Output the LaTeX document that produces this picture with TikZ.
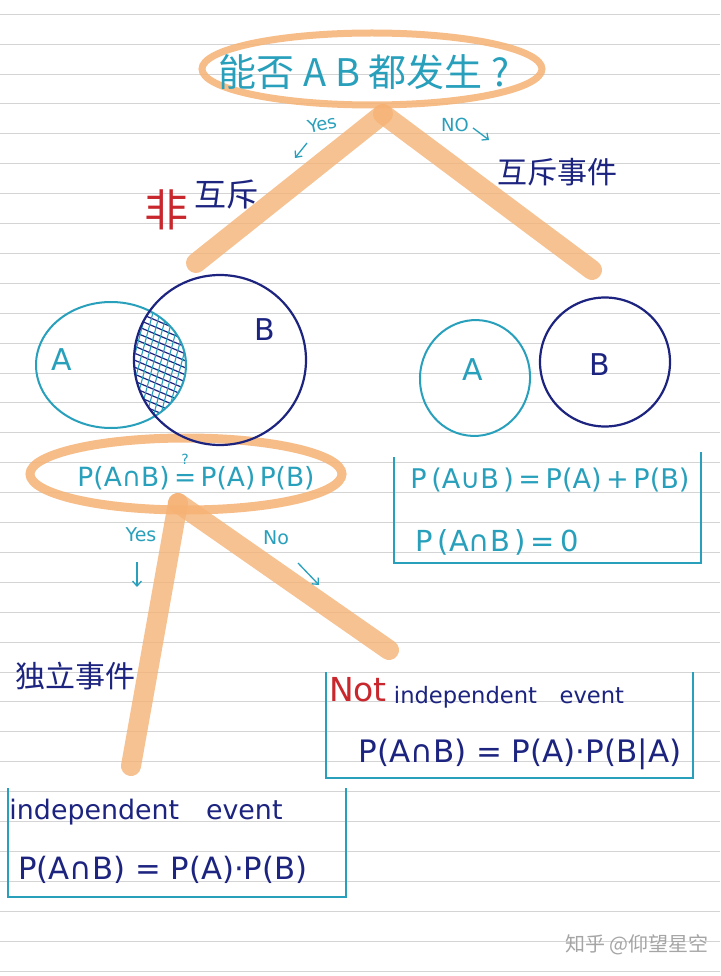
\documentclass[tikz,border=0pt]{standalone}
\usepackage{fontspec}
\usepackage{graphicx}
\setmainfont{DejaVu Sans}
\newfontfamily\cjk{Noto Sans CJK SC}
\usetikzlibrary{arrows.meta,shapes.geometric}
\definecolor{tealhand}{RGB}{40,160,188}
\definecolor{navyhand}{RGB}{28,36,128}
\definecolor{redhand}{RGB}{200,40,45}
\definecolor{orng}{RGB}{246,178,116}
\definecolor{rulegrey}{RGB}{212,212,212}
\definecolor{wmgrey}{RGB}{165,165,165}
\newcommand\fitw[2]{\resizebox{#1pt}{!}{#2}}
\begin{document}
\begin{tikzpicture}[x=1pt,y=-1pt,
  ruleline/.style={draw=rulegrey,line width=1pt},
  orstroke/.style={draw=orng,line width=20pt,line cap=round,draw opacity=0.78},
  orring/.style={ellipse,draw=orng,draw opacity=0.85,inner sep=0pt},
  tealtxt/.style={text=tealhand,inner sep=0pt},
  navytxt/.style={text=navyhand,inner sep=0pt},
  redtxt/.style={text=redhand,inner sep=0pt},
  handarrow/.style={-{Straight Barb[length=5pt,width=9pt]},draw=tealhand,line width=1.3pt},
  boxline/.style={draw=tealhand,line width=1.8pt},
  setA/.style={ellipse,draw=tealhand,line width=2pt,inner sep=0pt},
  setB/.style={ellipse,draw=navyhand,line width=2.2pt,inner sep=0pt},
]
\useasboundingbox (0,0) rectangle (720,976);
\fill[white] (0,0) rectangle (720,976);
\foreach \k in {0,...,32} {
  \pgfmathsetmacro{\ry}{int(14.3+29.9*\k)+0.5}
  \draw[ruleline] (0,\ry) -- (720,\ry);
}

% ---- orange question ellipses and branches
\node[orring,line width=7pt,minimum width=340pt,minimum height=72pt] (q1) at (372,69) {};
\coordinate (q1root) at (383,114);
\coordinate (yes1end) at (196,263);
\coordinate (no1end) at (592,270);
\draw[orstroke] (q1root) -- (yes1end);
\draw[orstroke] (q1root) -- (no1end);

\node[orring,line width=9pt,minimum width=312pt,minimum height=72pt] (q2) at (186,474) {};
\coordinate (q2root) at (178,503);
\coordinate (yes2end) at (131,766);
\coordinate (no2end) at (389,650);
\draw[orstroke] (q2root) -- (yes2end);
\draw[orstroke] (q2root) -- (no2end);

% ---- question texts
\node[tealtxt] (q1t) at (364,72) {\fontsize{38}{40}\selectfont\cjk 能否 A B 都发生 ?};
\node[tealtxt] (q2t) at (196,478) {\fitw{237}{P(A∩B)\,=\,P(A)\,P(B)}};
\node[tealtxt] (q2q) at (185,459) {\fontsize{14}{15}\selectfont ?};

% ---- branch labels, first level
\node[tealtxt,rotate=12] (yes1) at (322,124) {\fontsize{18}{19}\selectfont Yes};
\coordinate (ya1s) at (307,143);
\coordinate (ya1e) at (295,158);
\draw[handarrow] (ya1s) -- (ya1e);
\node[tealtxt] (no1) at (455,125) {\fontsize{18}{19}\selectfont NO};
\coordinate (na1s) at (473,128);
\coordinate (na1e) at (489,140);
\draw[handarrow] (na1s) -- (na1e);

\node[redtxt] (fei) at (166,210) {\fontsize{44}{46}\selectfont\cjk 非};
\node[navytxt] (huchi1) at (226,195) {\fontsize{32}{34}\selectfont\cjk 互斥};
\node[navytxt] (huchi2) at (557,172) {\fontsize{30}{32}\selectfont\cjk 互斥事件};

% ---- Venn diagram, overlapping
\begin{scope}
  \clip (111,365) ellipse [x radius=75pt, y radius=63pt];
  \clip (220,360) ellipse [x radius=86pt, y radius=85pt];
  \foreach \i in {270,277,...,460} \draw[navyhand,line width=1.2pt] (120,\i) -- (200,\i+34);
  \foreach \i in {110,117,...,240} \draw[tealhand,line width=1.1pt] (\i,290) -- (\i-40,440);
\end{scope}
\node[setA,minimum width=150pt,minimum height=126pt] (vA) at (111,365) {};
\node[setB,minimum width=172pt,minimum height=170pt] (vB) at (220,360) {};
\node[tealtxt] (vAl) at (62,360) {\fontsize{30}{32}\selectfont A};
\node[navytxt] (vBl) at (265,330) {\fontsize{30}{32}\selectfont B};

% ---- Venn diagram, disjoint
\node[setA,minimum width=110pt,minimum height=116pt,rotate=-8] (dA) at (475,378) {};
\node[setB,minimum width=130pt,minimum height=129pt] (dB) at (605,362) {};
\node[tealtxt] (dAl) at (473,370) {\fontsize{30}{32}\selectfont A};
\node[navytxt] (dBl) at (600,365) {\fontsize{30}{32}\selectfont B};

% ---- mutually exclusive box
\coordinate (bx1tl) at (394,457);
\coordinate (bx1bl) at (394,563);
\coordinate (bx1br) at (701,563);
\coordinate (bx1tr) at (701,452);
\draw[boxline] (bx1tl) -- (bx1bl) -- (bx1br) -- (bx1tr);
\node[tealtxt] (f2) at (550,480) {\fitw{279}{P\,(A∪B\,)\,=\,P(A)\,+\,P(B)}};
\node[tealtxt] (f3) at (497,542) {\fitw{163}{P\,(A∩B\,)\,=\,0}};

% ---- branch labels, second level
\node[tealtxt] (yes2) at (141,535) {\fontsize{19}{20}\selectfont Yes};
\coordinate (ya2s) at (137,562);
\coordinate (ya2e) at (137,587);
\draw[handarrow] (ya2s) -- (ya2e);
\node[tealtxt] (no2) at (276,538) {\fontsize{19}{20}\selectfont No};
\coordinate (na2s) at (298,563);
\coordinate (na2e) at (319,585);
\draw[handarrow] (na2s) -- (na2e);

\node[navytxt] (duli) at (75,676) {\fontsize{30}{32}\selectfont\cjk 独立事件};

% ---- not independent box
\coordinate (bx2tl) at (326,672);
\coordinate (bx2bl) at (326,778);
\coordinate (bx2br) at (693,778);
\coordinate (bx2tr) at (693,672);
\draw[boxline] (bx2tl) -- (bx2bl) -- (bx2br) -- (bx2tr);
\node[redtxt] (notw) at (358,690) {\fontsize{33}{35}\selectfont Not};
\node[navytxt] (nie) at (509,697) {\fitw{230}{independent\quad event}};
\node[navytxt] (f4) at (520,754) {\fitw{323}{P(A∩B) = P(A)·P(B|A)}};

% ---- independent box
\coordinate (bx3tl) at (8,788);
\coordinate (bx3bl) at (8,897);
\coordinate (bx3br) at (346,897);
\coordinate (bx3tr) at (346,788);
\draw[boxline] (bx3tl) -- (bx3bl) -- (bx3br) -- (bx3tr);
\node[navytxt] (ie) at (146,812) {\fitw{273}{independent\quad event}};
\node[navytxt] (f5) at (163,870) {\fitw{289}{P(A∩B) = P(A)·P(B)}};

% ---- watermark
\node[text=wmgrey,inner sep=0pt] (wm) at (637,945) {\fontsize{20}{22}\selectfont\cjk 知乎 @仰望星空};
\end{tikzpicture}
\end{document}
